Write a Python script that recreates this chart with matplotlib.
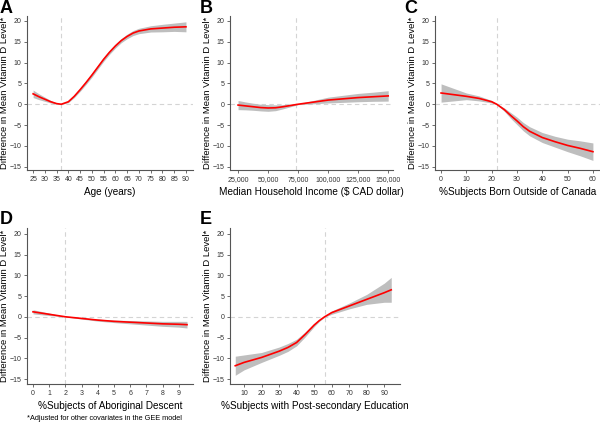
import numpy as np
import matplotlib
matplotlib.use('Agg')
import matplotlib.pyplot as plt

plt.rcParams['font.family'] = ['Liberation Sans', 'DejaVu Sans']

# ---- data ----
age_x   = [25, 27.5, 30, 32.5, 35, 37, 40, 42.5, 45, 47.5, 50, 52.5, 55, 57.5, 60, 62.5, 65, 67.5, 70, 75, 80, 85, 90]
age_y   = [2.5, 1.8, 1.2, 0.6, 0.15, 0.0, 0.6, 1.9, 3.5, 5.2, 7.0, 8.9, 10.8, 12.5, 14.0, 15.3, 16.3, 17.1, 17.6, 18.1, 18.3, 18.5, 18.6]
age_se  = [0.9, 0.7, 0.5, 0.3, 0.15, 0.1, 0.2, 0.3, 0.4, 0.45, 0.5, 0.5, 0.5, 0.5, 0.5, 0.5, 0.55, 0.6, 0.65, 0.75, 0.9, 1.0, 1.2]

inc_x   = [25000, 31250, 37500, 43750, 50000, 56250, 62500, 68750, 75000, 87500, 100000, 112500, 125000, 137500, 150000]
inc_y   = [-0.2, -0.4, -0.6, -0.8, -0.9, -0.85, -0.6, -0.3, 0.0, 0.5, 1.0, 1.3, 1.6, 1.8, 2.0]
inc_se  = [1.1, 0.95, 0.85, 0.8, 0.8, 0.7, 0.5, 0.3, 0.1, 0.4, 0.7, 0.85, 1.0, 1.1, 1.25]

born_x  = [0, 5, 10, 15, 20, 22, 25, 27.5, 30, 32.5, 35, 40, 45, 50, 55, 60]
born_y  = [2.7, 2.3, 1.9, 1.4, 0.6, 0.0, -1.3, -2.7, -4.0, -5.4, -6.5, -8.0, -9.0, -9.9, -10.6, -11.4]
born_se = [2.2, 1.5, 0.8, 0.6, 0.3, 0.1, 0.4, 0.7, 0.9, 1.0, 1.1, 1.2, 1.3, 1.5, 1.8, 2.1]

abo_x   = [0, 0.5, 1, 1.5, 2, 3, 4, 5, 6, 7, 8, 9, 9.5]
abo_y   = [1.2, 0.9, 0.6, 0.3, 0.0, -0.4, -0.8, -1.1, -1.3, -1.5, -1.7, -1.8, -1.9]
abo_se  = [0.5, 0.4, 0.3, 0.15, 0.05, 0.15, 0.25, 0.3, 0.4, 0.5, 0.6, 0.7, 0.8]

edu_x   = [5, 10, 20, 30, 35, 40, 45, 50, 53, 56, 60, 70, 80, 90, 94]
edu_y   = [-11.8, -11.0, -9.8, -8.3, -7.4, -6.2, -4.2, -2.0, -0.9, 0.0, 1.0, 2.6, 4.2, 5.8, 6.5]
edu_se  = [2.3, 1.8, 1.2, 1.0, 0.95, 0.8, 0.6, 0.4, 0.2, 0.1, 0.4, 0.7, 1.2, 2.3, 3.0]

panels = [
    # letter, x, y, se, ref, xlabel, xticks, xticklabels, xlim, ylim, pixel box (l, t, r, b), letter pos
    ('A', age_x, age_y, age_se, 37, 'Age (years)',
     list(range(25, 91, 5)), None, (22.4, 93), (-15.8, 21.2), (27, 16, 193, 170), (0, 0)),
    ('B', inc_x, inc_y, inc_se, 73000, 'Median Household Income ($ CAD dollar)',
     [25000, 50000, 75000, 100000, 125000, 150000],
     ['25,000', '50,000', '75,000', '100,000', '125,000', '150,000'],
     (18300, 154000), (-15.8, 21.2), (230, 16, 393, 170), (200, 0)),
    ('C', born_x, born_y, born_se, 22, '%Subjects Born Outside of Canada',
     list(range(0, 61, 10)), None, (-2.4, 62.8), (-15.8, 21.2), (435, 16, 600, 170), (404, 0)),
    ('D', abo_x, abo_y, abo_se, 2, '%Subjects of Aboriginal Descent',
     list(range(0, 10)), None, (-0.37, 9.87), (-16.2, 21.4), (27, 228, 193, 384), (0, 211)),
    ('E', edu_x, edu_y, edu_se, 56, '%Subjects with Post-secondary Education',
     list(range(10, 91, 10)), None, (2, 99), (-16.2, 21.4), (230, 228, 400, 384), (200, 211)),
]

W, H = 600, 424
fig = plt.figure(figsize=(6.0, 4.24), dpi=100)

for letter, x, y, se, ref, xlab, xt, xtl, xl, yl, box, lp in panels:
    l, t, r, b = box
    ax = fig.add_axes([l / W, 1 - b / H, (r - l) / W, (b - t) / H])
    x = np.array(x, dtype=float)
    y = np.array(y)
    se = np.array(se)
    ax.fill_between(x, y - se, y + se, color='#bebebe', linewidth=0, zorder=1)
    ax.plot(x, y, color='#ff0000', linewidth=1.2, zorder=3)
    ax.axhline(0, color='#d4d4d4', linestyle=(0, (4, 3)), linewidth=0.8, zorder=0)
    ax.axvline(ref, color='#d4d4d4', linestyle=(0, (4, 3)), linewidth=0.8, zorder=0)

    ax.set_xlim(*xl)
    ax.set_ylim(*yl)
    ax.set_yticks([-15, -10, -5, 0, 5, 10, 15, 20])
    ax.set_xticks(xt)
    if xtl is not None:
        ax.set_xticklabels(xtl)
    for s in ['top', 'right']:
        ax.spines[s].set_visible(False)
    for s in ['left', 'bottom']:
        ax.spines[s].set_color('#555555')
        ax.spines[s].set_linewidth(0.8)
    ax.tick_params(direction='out', length=2.5, width=0.6, color='#555555',
                   labelsize=5, labelcolor='#333333', pad=1.5)
    ax.set_xlabel(xlab, fontsize=7.2)
    ax.xaxis.set_label_coords(0.5, -17 / (b - t))
    ax.set_ylabel('Difference in Mean Vitamin D Level*', fontsize=6.8)
    ax.yaxis.set_label_coords(-18 / (r - l), 0.5)
    fig.text(lp[0] / W, 1 - lp[1] / H, letter, fontsize=13, fontweight='bold',
             ha='left', va='top')

fig.text(27 / W, 1 - 419 / H, '*Adjusted for other covariates in the GEE model',
         fontsize=5.3, ha='left', va='center')

fig.savefig('out.png', dpi=100)
